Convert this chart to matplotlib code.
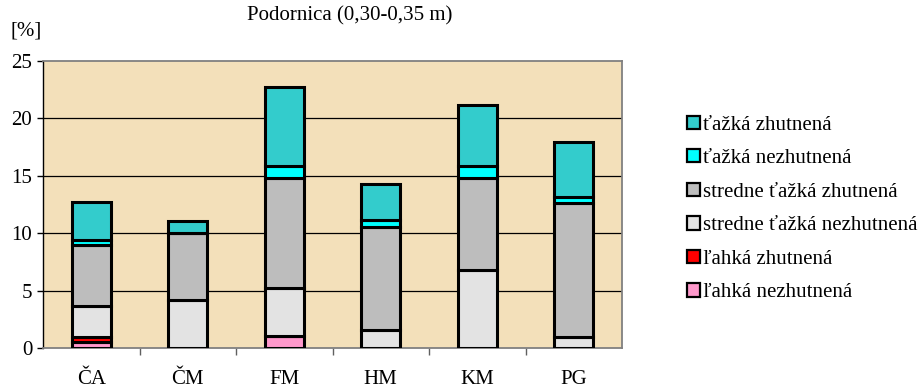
import matplotlib
matplotlib.use("Agg")
import matplotlib.pyplot as plt
import numpy as np
from matplotlib.patches import Patch

plt.rcParams['font.family'] = ['Liberation Serif', 'DejaVu Serif']

categories = ['ČA', 'ČM', 'FM', 'HM', 'KM', 'PG']

lahka_nezhutnena = [0.50, 0.00, 1.05, 0.00, 0.00, 0.00]
lahka_zhutnena = [0.50, 0.00, 0.00, 0.00, 0.00, 0.00]
stredne_nezhutnena = [2.65, 4.20, 4.15, 1.60, 6.80, 1.00]
stredne_zhutnena = [5.30, 5.80, 9.60, 8.90, 8.00, 11.65]
tazka_nezhutnena = [0.45, 0.00, 1.07, 0.65, 1.05, 0.50]
tazka_zhutnena = [3.30, 1.10, 6.90, 3.10, 5.30, 4.80]

series = [
    ('ľahká nezhutnená', lahka_nezhutnena, '#FF99CC'),
    ('ľahká zhutnená', lahka_zhutnena, '#FF0000'),
    ('stredne ťažká nezhutnená', stredne_nezhutnena, '#E3E3E3'),
    ('stredne ťažká zhutnená', stredne_zhutnena, '#BDBDBD'),
    ('ťažká nezhutnená', tazka_nezhutnena, '#00FFFF'),
    ('ťažká zhutnená', tazka_zhutnena, '#33CCCC'),
]

FS = 15

fig = plt.figure(figsize=(9.24, 3.90), dpi=100)
ax = fig.add_axes([43 / 924, 1 - 348 / 390, 579 / 924, 287 / 390])
ax.set_facecolor('#F3E0BA')

x = np.arange(len(categories))
bottom = np.zeros(len(categories))
for label, vals, color in series:
    vals = np.array(vals)
    ax.bar(x, vals, width=0.4, bottom=bottom, color=color,
           edgecolor='black', linewidth=2.2, zorder=3)
    bottom += vals

ax.set_xlim(-0.5, len(categories) - 0.5)
ax.set_ylim(0, 25)
ax.set_yticks([0, 5, 10, 15, 20, 25])
for yv in [5, 10, 15, 20]:
    ax.axhline(yv, color='black', linewidth=0.9, zorder=1)

ax.set_xticks(x)
ax.set_xticklabels(categories, fontsize=FS)
ax.tick_params(axis='x', length=0, pad=16)
ax.set_xticks(np.arange(0.5, len(categories) - 0.5, 1), minor=True)
ax.tick_params(axis='x', which='minor', length=5, width=1.0,
               direction='out', color='#606060')
ax.tick_params(axis='y', labelsize=FS, length=4.3, width=1.0, pad=3.5,
               direction='out')

for side in ['top', 'right', 'bottom']:
    ax.spines[side].set_color('#808080')
    ax.spines[side].set_linewidth(1.3)
ax.spines['left'].set_color('black')
ax.spines['left'].set_linewidth(1.0)

fig.text(350 / 924, 1 - 16 / 390, 'Podornica (0,30-0,35 m)', fontsize=FS,
         ha='center', va='center')
fig.text(10 / 924, 1 - 31 / 390, '[%]', fontsize=FS, ha='left', va='center')

handles = [Patch(facecolor=c, edgecolor='black', linewidth=1.6, label=l)
           for l, v, c in reversed(series)]
fig.legend(handles=handles, loc='center left',
           bbox_to_anchor=(687 / 924, 1 - 209 / 390),
           frameon=False, fontsize=FS, handlelength=0.6, handleheight=0.6,
           handletextpad=0.15, labelspacing=0.7, borderpad=0,
           borderaxespad=0)

fig.savefig('out.png', dpi=100)
